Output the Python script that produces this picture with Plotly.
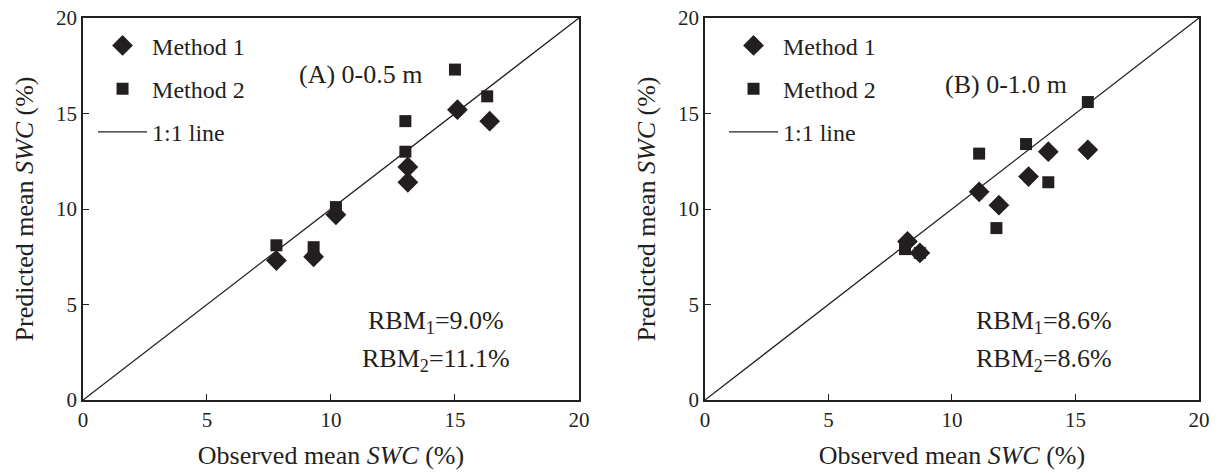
import plotly.graph_objects as go

# Panel A (0-0.5 m)
obs_a_m1 = [7.8, 9.3, 10.2, 13.1, 13.1, 15.1, 16.4]
pred_a_m1 = [7.3, 7.5, 9.7, 12.2, 11.4, 15.2, 14.6]
obs_a_m2 = [7.8, 9.3, 10.2, 13.0, 13.0, 15.0, 16.3]
pred_a_m2 = [8.1, 8.0, 10.1, 14.6, 13.0, 17.3, 15.9]

# Panel B (0-1.0 m)
obs_b_m1 = [8.2, 8.7, 11.1, 11.9, 13.1, 13.9, 15.5]
pred_b_m1 = [8.3, 7.7, 10.9, 10.2, 11.7, 13.0, 13.1]
obs_b_m2 = [8.1, 8.7, 11.1, 11.8, 13.0, 13.9, 15.5]
pred_b_m2 = [7.9, 7.7, 12.9, 9.0, 13.4, 11.4, 15.6]

one_to_one = [0, 20]
ticks = [0, 5, 10, 15, 20]

ink = "#231f20"
font_family = "Liberation Serif, Times New Roman, serif"

fig = go.Figure()

def add_panel(xa, ya, legend, obs1, pred1, obs2, pred2):
    fig.add_trace(go.Scatter(x=obs1, y=pred1, mode="markers", name="Method 1",
                             marker=dict(symbol="diamond", size=16, color=ink, line=dict(width=0)),
                             xaxis=xa, yaxis=ya, legend=legend, legendgroup=legend + "a"))
    fig.add_trace(go.Scatter(x=obs2, y=pred2, mode="markers", name="Method 2",
                             marker=dict(symbol="square", size=12, color=ink, line=dict(width=0)),
                             xaxis=xa, yaxis=ya, legend=legend, legendgroup=legend + "b"))
    fig.add_trace(go.Scatter(x=one_to_one, y=one_to_one, mode="lines", name="1:1 line",
                             line=dict(color=ink, width=1.3),
                             xaxis=xa, yaxis=ya, legend=legend, legendgroup=legend + "c"))

add_panel("x", "y", "legend", obs_a_m1, pred_a_m1, obs_a_m2, pred_a_m2)
add_panel("x2", "y2", "legend2", obs_b_m1, pred_b_m1, obs_b_m2, pred_b_m2)

axis_common = dict(range=[0, 20], tickvals=ticks, ticks="inside", ticklen=6, tickwidth=1.2,
                   tickcolor=ink, showline=True, linecolor=ink, linewidth=1.5, mirror=True,
                   showgrid=False, zeroline=False, automargin=False,
                   tickfont=dict(family=font_family, size=21, color=ink))

xtitle = dict(text="Observed mean <i>SWC</i> (%)", font=dict(family=font_family, size=26, color=ink), standoff=15)
ytitle = dict(text="Predicted mean <i>SWC</i> (%)", font=dict(family=font_family, size=26, color=ink), standoff=15)

legend_common = dict(font=dict(family=font_family, size=24, color=ink), bgcolor="rgba(0,0,0,0)",
                     traceorder="grouped", tracegroupgap=9, itemwidth=49,
                     xanchor="left", yanchor="top")

fig.update_layout(
    width=1220, height=473,
    paper_bgcolor="white", plot_bgcolor="white",
    margin=dict(l=83, r=21, t=18, b=73, autoexpand=False),
    xaxis=dict(domain=[0, 0.4444], anchor="y", title=xtitle, **axis_common),
    yaxis=dict(domain=[0, 1], anchor="x", title=ytitle, **axis_common),
    xaxis2=dict(domain=[0.5573, 1.0], anchor="y2", title=xtitle, **axis_common),
    yaxis2=dict(domain=[0, 1], anchor="x2", title=ytitle, **axis_common),
    legend=dict(x=0.009, y=0.986, **legend_common),
    legend2=dict(x=0.5744, y=0.986, **legend_common),
    showlegend=True,
)

ann_font = dict(family=font_family, size=26, color=ink)
annotations = [
    dict(text="(A) 0-0.5 m", x=0.56, y=0.852, xref="x domain", yref="y domain"),
    dict(text="RBM<sub>1</sub>=9.0%", x=0.712, y=0.203, xref="x domain", yref="y domain"),
    dict(text="RBM<sub>2</sub>=11.1%", x=0.712, y=0.106, xref="x domain", yref="y domain"),
    dict(text="(B) 0-1.0 m", x=0.61, y=0.826, xref="x2 domain", yref="y2 domain"),
    dict(text="RBM<sub>1</sub>=8.6%", x=0.687, y=0.203, xref="x2 domain", yref="y2 domain"),
    dict(text="RBM<sub>2</sub>=8.6%", x=0.687, y=0.106, xref="x2 domain", yref="y2 domain"),
]
for a in annotations:
    fig.add_annotation(showarrow=False, font=ann_font, xanchor="center", yanchor="middle", **a)

fig.write_html("out.html", config={"displayModeBar": False},
               post_script="document.body.style.margin='0';")
